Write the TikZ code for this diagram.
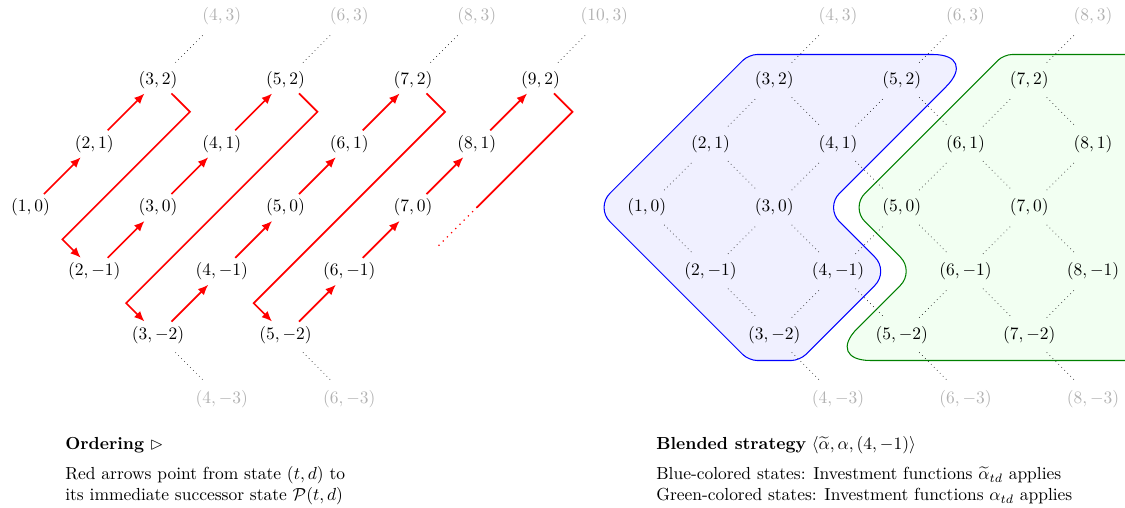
\documentclass[tikz,border=0pt]{standalone}
\usepackage{amsmath,amssymb}
\usetikzlibrary{calc,arrows.meta}
\tikzset{
  st/.style={inner sep=2.5pt},
  ghost/.style={inner sep=2.5pt, text=black!30},
  lat/.style={dotted, black!85, shorten <=3.2pt, shorten >=3.2pt},
  succ/.style={red, line width=1pt, -{Latex[length=6pt,width=5pt]}},
  tail/.style={red, line width=1pt, line cap=round, dash pattern=on 0pt off 3.4pt},
  bluezone/.style={draw=blue, fill=blue!6, line width=0.6pt},
  greenzone/.style={draw=green!50!black, fill=green!5, line width=0.6pt},
  caption/.style={anchor=base west, inner sep=0pt},
}
\begin{document}
\begin{tikzpicture}
\useasboundingbox (0,0) rectangle (644.63pt,-291.08pt);
\clip (0,0) rectangle (644.63pt,-291.08pt);

% ---------------- left: ordering ----------------
\begin{scope}[shift={(-19.05pt,-118.9pt)}, x=36.53pt, y=36.53pt]
  \foreach \t/\d in {1/0,2/1,3/2,3/0,2/-1,3/-2,4/1,5/2,5/0,4/-1,5/-2,6/1,7/2,7/0,6/-1,8/1,9/2}
    \node[st] (l\t_\d) at (\t,\d) {$(\t,\d)$};
  \foreach \t/\d in {4/3,6/3,8/3,10/3,4/-3,6/-3}
    \node[ghost] (l\t_\d) at (\t,\d) {$(\t,\d)$};
  \foreach \a/\b in {3_2/4_3,5_2/6_3,7_2/8_3,9_2/10_3,3_-2/4_-3,5_-2/6_-3}
    \draw[lat] (l\a) -- (l\b);
  \foreach \a/\b in {1_0/2_1,2_1/3_2,2_-1/3_0,3_0/4_1,4_1/5_2,3_-2/4_-1,4_-1/5_0,5_0/6_1,6_1/7_2,5_-2/6_-1,6_-1/7_0,7_0/8_1,8_1/9_2}
    \draw[succ] (l\a) -- (l\b);
  \foreach \a/\b in {3_2/2_-1,5_2/3_-2,7_2/5_-2}
    \draw[succ] (l\a) -- ($(l\a.center)+(0.5,-0.5)$) -- ($(l\b.center)+(-0.5,0.5)$) -- (l\b);
  \coordinate (c92) at (9.5,1.5);
  \coordinate (e92) at (8,0);
  \coordinate (f92) at (7.4,-0.6);
  \draw[red, line width=1pt] (l9_2) -- (c92) -- (e92);
  \draw[tail] (e92) -- (f92);
\end{scope}

% ---------------- right: blended strategy ----------------
\begin{scope}[shift={(334.06pt,-118.9pt)}, x=36.53pt, y=36.53pt]
  \path[bluezone] (4.4,2.4) [rounded corners=26pt] -- (6.2,2.4)
     [rounded corners=11.5pt] -- (3.8,0) [rounded corners=11.5pt] -- (4.8,-1)
     [rounded corners=4.8pt] -- (3.4,-2.4) [rounded corners=4.8pt] -- (2.6,-2.4)
     [rounded corners=11.5pt] -- (0.2,0) [rounded corners=4.8pt] -- (2.6,2.4) -- cycle;
  \path[greenzone] (9,2.4) -- (10,2.4) -- (10,-2.4) [rounded corners=26pt] -- (3.8,-2.4)
     [rounded corners=11.5pt] -- (5.2,-1) [rounded corners=11.5pt] -- (4.2,0)
     [rounded corners=4.8pt] -- (6.6,2.4) -- cycle;
  \foreach \t/\d in {3/2,5/2,7/2,2/1,4/1,6/1,8/1,1/0,3/0,5/0,7/0,2/-1,4/-1,6/-1,8/-1,3/-2,5/-2,7/-2}
    \node[st] (r\t_\d) at (\t,\d) {$(\t,\d)$};
  \foreach \t/\d in {4/3,6/3,8/3,4/-3,6/-3,8/-3}
    \node[ghost] (r\t_\d) at (\t,\d) {$(\t,\d)$};
  \foreach \a/\b in {1_0/2_1,1_0/2_-1,2_1/3_2,2_1/3_0,2_-1/3_0,2_-1/3_-2,
      3_2/4_3,3_2/4_1,3_0/4_1,3_0/4_-1,3_-2/4_-1,3_-2/4_-3,
      4_1/5_2,4_1/5_0,4_-1/5_0,4_-1/5_-2,
      5_2/6_3,5_2/6_1,5_0/6_1,5_0/6_-1,5_-2/6_-1,5_-2/6_-3,
      6_1/7_2,6_1/7_0,6_-1/7_0,6_-1/7_-2,
      7_2/8_3,7_2/8_1,7_0/8_1,7_0/8_-1,7_-2/8_-1,7_-2/8_-3}
    \draw[lat] (r\a) -- (r\b);
\end{scope}

% ---------------- captions ----------------
\node[caption] (ordT) at (37.25pt,-257.85pt) {\textbf{Ordering} $\rhd$};
\node[caption] (ord1) at (37.25pt,-275.0pt) {Red arrows point from state $(t,d)$ to};
\node[caption] (ord2) at (37.25pt,-287.0pt) {its immediate successor state $\mathcal{P}(t,d)$};
\node[caption] (blT) at (375.9pt,-257.85pt) {\textbf{Blended strategy} $\langle\widetilde{\alpha},\alpha,(4,-1)\rangle$};
\node[caption] (bl1) at (375.9pt,-275.0pt) {Blue-colored states: Investment functions $\widetilde{\alpha}_{td}$ applies};
\node[caption] (bl2) at (375.9pt,-287.0pt) {Green-colored states: Investment functions $\alpha_{td}$ applies};
\end{tikzpicture}
\end{document}
